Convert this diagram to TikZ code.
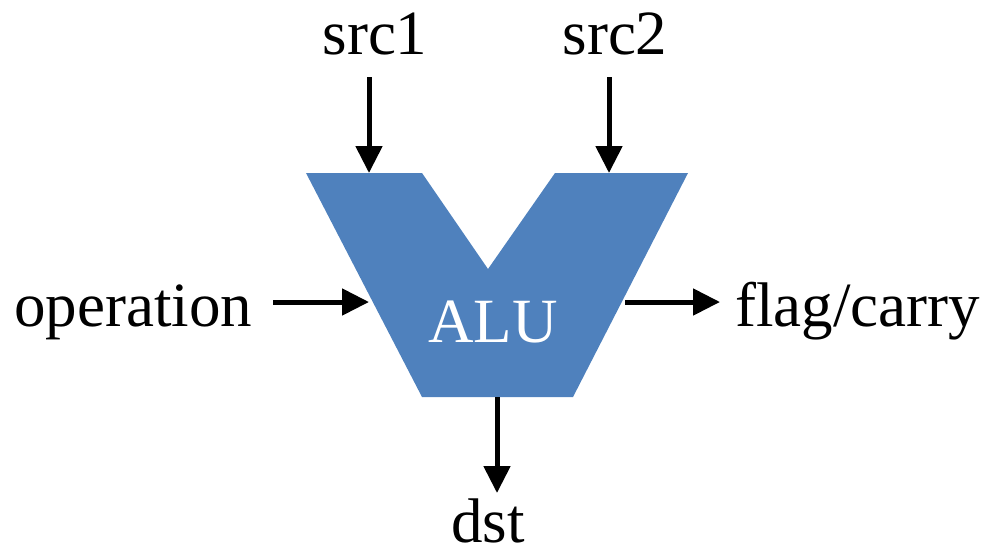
\documentclass[tikz,border=0pt]{standalone}
\usepackage{fontspec}
\setmainfont{Liberation Serif}
\usetikzlibrary{arrows.meta}
\definecolor{alublue}{HTML}{4F81BD}
\begin{document}
\begin{tikzpicture}[x=1pt,y=-1pt,
  lbl/.style={anchor=base,inner sep=0pt,font=\fontsize{63}{70}\selectfont},
  conn/.style={line width=5pt,-{Triangle[length=27pt,width=26pt]}}]
\useasboundingbox (0,0) rectangle (984,550);
\fill[alublue] (306,173) -- (422,173) -- (488,269) -- (555,173) -- (688,173) -- (573,397) -- (422,397) -- cycle;
\node[lbl,text=white] (alu) at (493,342) {ALU};
\node[lbl] (src1) at (375,54) {src1};
\node[lbl] (src2) at (615,54) {src2};
\node[lbl,anchor=base west] (op) at (14,326) {operation};
\node[lbl,anchor=base west] (flag) at (735,326) {flag/carry};
\node[lbl] (dst) at (488,542) {dst};
\coordinate (s1a) at (369,77); \coordinate (s1b) at (369,173);
\coordinate (s2a) at (609,77); \coordinate (s2b) at (609,173);
\coordinate (opa) at (273,302); \coordinate (opb) at (369,302);
\coordinate (fla) at (625,302); \coordinate (flb) at (720,302);
\coordinate (dsa) at (497,397); \coordinate (dsb) at (497,493);
\draw[conn] (s1a) -- (s1b);
\draw[conn] (s2a) -- (s2b);
\draw[conn] (opa) -- (opb);
\draw[conn] (fla) -- (flb);
\draw[conn] (dsa) -- (dsb);
\end{tikzpicture}
\end{document}
